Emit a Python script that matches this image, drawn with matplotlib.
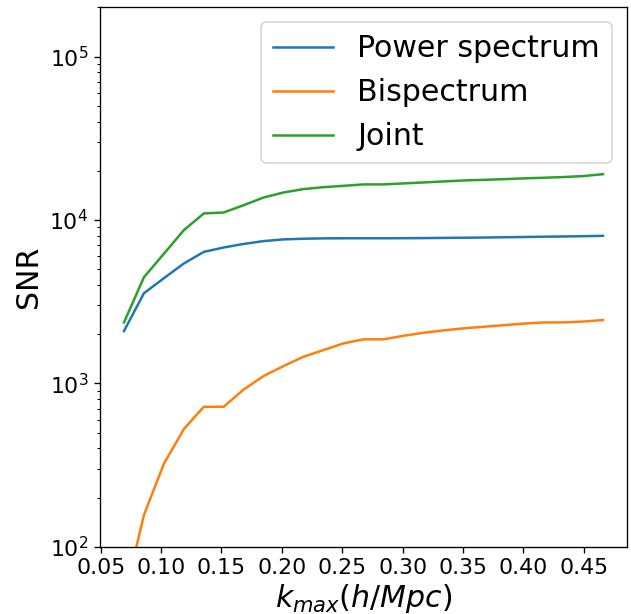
import numpy as np
import matplotlib
matplotlib.use("Agg")
import matplotlib.pyplot as plt

# k_max values (h/Mpc)
kmax = [0.0693, 0.0858, 0.1023, 0.1189, 0.1354, 0.1519, 0.1685, 0.1850,
        0.2015, 0.2180, 0.2346, 0.2511, 0.2676, 0.2842, 0.3007, 0.3172,
        0.3338, 0.3503, 0.3668, 0.3833, 0.3999, 0.4164, 0.4329, 0.4495,
        0.4660]

# SNR
snr_pk = [2090, 3560, 4400, 5420, 6380, 6790, 7140, 7430,
          7610, 7680, 7720, 7730, 7730, 7730, 7740, 7750,
          7770, 7790, 7810, 7840, 7870, 7900, 7930, 7960,
          8000]
snr_bk = [48, 156, 321, 525, 719, 719, 918, 1110,
          1277, 1455, 1600, 1757, 1860, 1860, 1955, 2040,
          2110, 2170, 2220, 2270, 2320, 2360, 2360, 2390,
          2440]
snr_joint = [2360, 4460, 6210, 8670, 10970, 11120, 12330, 13740,
             14750, 15460, 15890, 16190, 16520, 16520, 16750, 16980,
             17220, 17460, 17610, 17780, 17980, 18140, 18320, 18570,
             19080]

fig = plt.figure(figsize=(631 / 120, 614 / 120), dpi=120)
ax = fig.add_axes([0.1585, 0.1096, 0.8352, 0.8782])

ax.plot(kmax, snr_pk, label="Power spectrum")
ax.plot(kmax, snr_bk, label="Bispectrum")
ax.plot(kmax, snr_joint, label="Joint")

ax.set_yscale("log")
ax.set_ylim(100, 2e5)
ax.set_xticks(np.arange(0.05, 0.46, 0.05))
ax.tick_params(labelsize=13.2)

ax.set_xlabel(r"$k_{max}(h/Mpc)$", fontsize=18, labelpad=2)
ax.set_ylabel("SNR", fontsize=18)
ax.legend(fontsize=18, loc="upper right")

fig.savefig("out.png", dpi=120)
